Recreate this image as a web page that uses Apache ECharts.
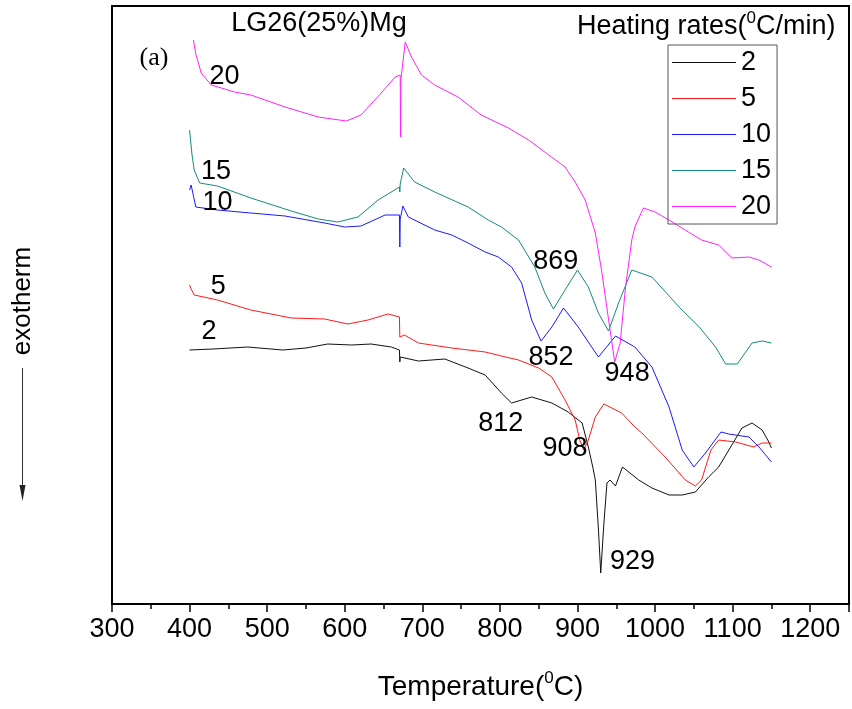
<!DOCTYPE html>
<html>
<head>
<meta charset="utf-8">
<script src="https://cdn.jsdelivr.net/npm/echarts@6/dist/echarts.min.js"></script>
<style>
html, body { margin: 0; padding: 0; background: #fff; }
#dsc { width: 852px; height: 709px; }
</style>
</head>
<body>
<div id="dsc"></div>
<script>
// DSC traces, LG26(25%)Mg, temperature in degC, heat flow in arbitrary units
const rates = ['2', '5', '10', '15', '20'];
const colors = ['#111111', '#ff1a1a', '#1a1aff', '#168a80', '#ff22ff'];

const t2 = [400, 430, 475, 520, 550, 578, 609, 634, 660, 670.5, 671, 671.5, 695, 729, 759, 781, 802, 815, 841, 867, 888, 906, 914, 920, 923, 927, 930, 934, 938, 942, 949, 958, 979, 996, 1018, 1035, 1052, 1069, 1082, 1099, 1112, 1125, 1138, 1146, 1150];
const q2 = [25.4, 25.5, 25.7, 25.4, 25.6, 26.0, 25.9, 26.0, 25.7, 25.4, 24.2, 24.7, 24.3, 24.5, 23.6, 22.9, 21.1, 20.1, 20.7, 20.1, 19.2, 18.1, 15.7, 13.6, 12.4, 7.5, 3.1, 8.0, 12.1, 12.4, 11.8, 13.7, 12.4, 11.6, 10.9, 10.9, 11.2, 12.7, 13.7, 15.9, 17.6, 18.1, 17.4, 16.3, 15.6];

const t5 = [400, 402, 406, 436, 479, 531, 574, 604, 630, 656, 670.5, 671, 677, 695, 738, 781, 802, 824, 850, 867, 884, 897, 903, 908, 914, 923, 934, 957, 974, 983, 1013, 1039, 1052, 1060, 1072, 1082, 1104, 1127, 1138, 1150];
const q5 = [31.9, 31.5, 30.9, 30.4, 29.4, 28.6, 28.5, 28.0, 28.4, 29.0, 28.7, 26.7, 26.9, 26.1, 25.6, 25.2, 24.8, 24.4, 23.6, 22.7, 20.4, 18.4, 16.4, 15.4, 16.4, 18.7, 20.0, 19.1, 17.7, 17.1, 14.7, 12.4, 11.8, 12.4, 15.4, 16.4, 16.2, 15.7, 16.1, 16.1];

const t10 = [400, 402, 408, 436, 479, 523, 574, 600, 621, 652, 670.5, 671, 671.5, 675, 682, 716, 738, 759, 781, 798, 815, 828, 841, 853, 867, 882, 901, 927, 949, 974, 996, 1018, 1035, 1050, 1065, 1085, 1095, 1121, 1134, 1150];
const q10 = [41.4, 41.9, 39.7, 39.4, 39.1, 38.8, 38.1, 37.7, 37.8, 38.9, 38.9, 35.7, 38.5, 39.8, 38.7, 37.4, 36.9, 36.1, 35.2, 34.7, 33.7, 32.1, 28.4, 26.3, 27.7, 29.6, 27.7, 24.7, 26.8, 25.7, 23.7, 19.7, 15.4, 13.7, 15.1, 17.2, 17.0, 16.7, 15.7, 14.2];

const t15 = [400, 403, 406, 413, 436, 479, 531, 566, 591, 617, 643, 670.5, 671, 671.5, 676, 690, 716, 759, 785, 802, 824, 845, 858, 869, 884, 900, 914, 927, 940, 953, 970, 996, 1031, 1057, 1078, 1091, 1106, 1125, 1138, 1150];
const q15 = [47.4, 45.0, 43.4, 42.1, 41.8, 40.6, 39.3, 38.5, 38.2, 38.7, 40.4, 41.7, 41.2, 42.0, 43.6, 42.2, 41.2, 39.7, 38.4, 37.7, 36.4, 33.7, 31.1, 29.5, 31.4, 33.4, 31.7, 29.1, 27.3, 30.1, 33.4, 32.7, 29.7, 27.7, 25.7, 24.0, 24.0, 26.1, 26.3, 26.1];

const t20 = [405, 408, 415, 428, 458, 479, 523, 566, 602, 621, 647, 665, 671.5, 672, 672.5, 678, 686, 699, 716, 746, 776, 811, 837, 863, 884, 897, 910, 923, 931, 942, 948, 955, 962, 970, 974, 985, 1000, 1018, 1043, 1060, 1082, 1099, 1121, 1134, 1150];
const q20 = [56.4, 55.0, 53.1, 51.9, 51.2, 50.9, 49.7, 48.7, 48.3, 48.9, 51.1, 52.7, 52.9, 46.7, 52.5, 56.2, 54.7, 52.9, 51.9, 50.7, 48.9, 47.6, 46.4, 44.9, 43.7, 42.2, 40.4, 37.1, 33.4, 27.4, 24.2, 26.1, 31.7, 36.4, 37.7, 39.6, 39.2, 38.4, 37.2, 36.4, 35.9, 34.6, 34.7, 34.4, 33.7];

// curve names and peak temperatures written on the plot
const noteText = ['20', '15', '10', '5', '2', '869', '852', '948', '812', '908', '929'];
const noteT = [445, 434, 436, 437, 425, 872, 866, 964, 801, 884, 971];
const noteQ = [52.7, 43.2, 40.1, 31.7, 27.2, 34.2, 24.6, 23.0, 18.0, 15.5, 4.2];

const xTicks = [300, 400, 500, 600, 700, 800, 900, 1000, 1100, 1200];

const traces = [[t2, q2], [t5, q5], [t10, q10], [t15, q15], [t20, q20]];
const sans = 'Liberation Sans, Arial, sans-serif';
const narrow = 'Liberation Sans Narrow, Arial Narrow, Liberation Sans, sans-serif';

const chart = echarts.init(document.getElementById('dsc'));

const series = traces.map((tr, i) => ({
    name: rates[i],
    type: 'line',
    symbol: 'none',
    data: tr[0].map((t, k) => [t, tr[1][k]]),
    lineStyle: { color: colors[i], width: 1 },
    itemStyle: { color: colors[i] },
    z: 3
}));

series.push({
    name: 'notes',
    type: 'scatter',
    symbolSize: 0,
    silent: true,
    itemStyle: { opacity: 1, color: '#000' },
    data: noteText.map((s, k) => [noteT[k], noteQ[k], s]),
    label: {
        show: true,
        position: 'inside',
        formatter: p => p.data[2],
        color: '#000',
        opacity: 1,
        textBorderWidth: 0,
        fontSize: 27,
        fontFamily: sans
    },
    z: 5
});

chart.setOption({
    animation: false,
    backgroundColor: '#fff',
    grid: {
        left: 112,
        right: 2,
        top: 6,
        bottom: 105,
        show: true,
        borderColor: '#000',
        borderWidth: 2
    },
    legend: {
        data: rates,
        orient: 'vertical',
        left: 668,
        top: 45,
        icon: 'rect',
        itemWidth: 64,
        itemHeight: 1,
        itemGap: 9,
        padding: [4, 6, 4, 4],
        borderColor: '#555',
        borderWidth: 1,
        textStyle: { fontSize: 27, lineHeight: 26, color: '#000', fontFamily: sans }
    },
    xAxis: [
        {
            type: 'value',
            min: 300,
            max: 1250,
            interval: 100,
            axisLine: { onZero: false, lineStyle: { color: '#000', width: 2 } },
            axisTick: { length: 8, lineStyle: { color: '#000', width: 1.5 } },
            splitLine: { show: false },
            axisLabel: {
                color: '#000',
                fontSize: 27,
                fontFamily: narrow,
                margin: 12,
                formatter: v => (xTicks.indexOf(v) >= 0 ? String(v) : '')
            },
            name: '{a|Temperature(}{s|0}{a|C)}',
            nameLocation: 'middle',
            nameGap: 66,
            nameTextStyle: {
                rich: {
                    a: { fontSize: 28, fontFamily: narrow, color: '#000', lineHeight: 34 },
                    s: { fontSize: 17, fontFamily: narrow, color: '#000', lineHeight: 34, verticalAlign: 'top' }
                }
            }
        },
        {
            type: 'value',
            min: 300,
            max: 1250,
            interval: 50,
            position: 'bottom',
            axisLine: { show: false },
            axisTick: { length: 5, lineStyle: { color: '#000', width: 1.5 } },
            axisLabel: { show: false },
            splitLine: { show: false }
        }
    ],
    yAxis: {
        type: 'value',
        min: 0,
        max: 59.8,
        show: false
    },
    graphic: [
        {
            type: 'text', x: 319, y: 24,
            style: { text: 'LG26(25%)Mg', fontSize: 27, fontFamily: sans, fill: '#000', align: 'center', verticalAlign: 'middle' }
        },
        {
            type: 'text', x: 154, y: 58,
            style: { text: '(a)', fontSize: 26, fontFamily: 'Liberation Serif, Times New Roman, serif', fill: '#000', align: 'center', verticalAlign: 'middle' }
        },
        {
            type: 'text', x: 577, y: 10,
            style: {
                text: '{a|Heating rates(}{s|0}{a|C/min)}',
                verticalAlign: 'top',
                rich: {
                    a: { fontSize: 27, fontFamily: sans, fill: '#000', lineHeight: 34 },
                    s: { fontSize: 17, fontFamily: sans, fill: '#000', lineHeight: 34, verticalAlign: 'top' }
                }
            }
        },
        {
            type: 'text', x: 23, y: 301, rotation: Math.PI / 2,
            style: { text: 'exotherm', fontSize: 26, fontFamily: sans, fill: '#000', align: 'center', verticalAlign: 'middle' }
        },
        {
            type: 'line',
            shape: { x1: 22.5, y1: 368, x2: 22.5, y2: 488 },
            style: { stroke: '#333', lineWidth: 1 }
        },
        {
            type: 'polygon',
            shape: { points: [[19.5, 485], [25.5, 485], [22.5, 501]] },
            style: { fill: '#222' }
        }
    ],
    series: series
});
</script>
</body>
</html>
